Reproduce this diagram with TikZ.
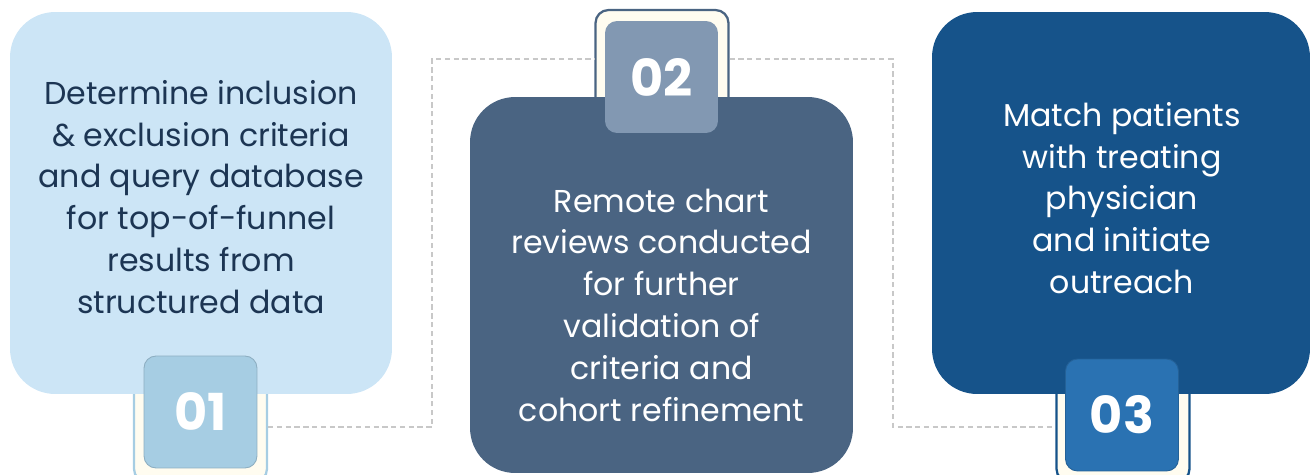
\documentclass[tikz,border=0pt]{standalone}
\usepackage{fontspec}
\setmainfont{Poppins}
\usepackage{xcolor}
\usetikzlibrary{positioning}
\definecolor{paleblue}{HTML}{CCE5F6}
\definecolor{slateblue}{HTML}{4A6482}
\definecolor{deepblue}{HTML}{16538A}
\definecolor{badgeone}{HTML}{A6CDE3}
\definecolor{badgetwo}{HTML}{8298B2}
\definecolor{badgethree}{HTML}{2A72B2}
\definecolor{cream}{HTML}{FFFCF0}
\definecolor{navytext}{HTML}{1C3553}
\definecolor{dashgray}{HTML}{C8C8C8}
\tikzset{
	stepcard/.style={rounded corners=0.9cm, inner sep=0pt},
	cardtext/.style={align=center, font=\fontsize{18}{23.8}\selectfont},
	frame/.style={draw, line width=1.3pt, fill=cream, rounded corners=0.26cm, minimum width=2.66cm, minimum height=2.84cm, inner sep=0pt},
	badge/.style={rounded corners=0.24cm, minimum width=2.26cm, minimum height=2.24cm, inner sep=0pt, text=white, font=\fontsize{29}{30}\selectfont\bfseries},
	link/.style={draw=dashgray, line width=0.9pt, dash pattern=on 3pt off 2pt}
}
\begin{document}
\begin{tikzpicture}[x=0.02cm, y=-0.02cm]
	\useasboundingbox (0,0) rectangle (1313,474);
	
	% frames behind the cards
	\node[frame, draw=badgeone] (frame1) at (200.5,411) {};
	\node[frame, draw=slateblue] (frame2) at (662,81) {};
	\node[frame, draw=deepblue] (frame3) at (1123,411) {};
	
	% dashed connectors
	\coordinate (j1a) at (432,427);
	\coordinate (j1b) at (432,59);
	\coordinate (j2a) at (893,59);
	\coordinate (j2b) at (893,427);
	\draw[link] (frame1.east |- j1a) -- (j1a) -- (j1b) -- (frame2.west |- j1b);
	\draw[link] (frame2.east |- j2a) -- (j2a) -- (j2b) -- (frame3.west |- j2b);
	
	% cards
	\node[stepcard, fill=paleblue, minimum width=7.64cm, minimum height=7.64cm] (card1) at (201,203) {};
	\node[stepcard, fill=slateblue, minimum width=7.66cm, minimum height=7.52cm] (card2) at (661.5,285) {};
	\node[stepcard, fill=deepblue, minimum width=7.56cm, minimum height=7.64cm] (card3) at (1121,203) {};
	
	\node[cardtext, text=navytext] (text1) at (201,197) {Determine inclusion\\ \& exclusion criteria\\ and query database\\ for top-of-funnel\\ results from\\ structured data};
	\node[cardtext, text=white] (text2) at (661.5,305) {Remote chart\\ reviews conducted\\ for further\\ validation of\\ criteria and\\ cohort refinement};
	\node[cardtext, text=white] (text3) at (1122,198) {Match patients\\ with treating\\ physician\\ and initiate\\ outreach};
	
	% number badges
	\node[badge, fill=badgeone, draw=badgeone!85!black, line width=0.5pt] (num1) at (200.5,412) {01};
	\node[badge, fill=badgetwo] (num2) at (661.5,77) {02};
	\node[badge, fill=badgethree, draw=badgethree!85!black, line width=0.5pt] (num3) at (1122,415) {03};
\end{tikzpicture}
\end{document}
